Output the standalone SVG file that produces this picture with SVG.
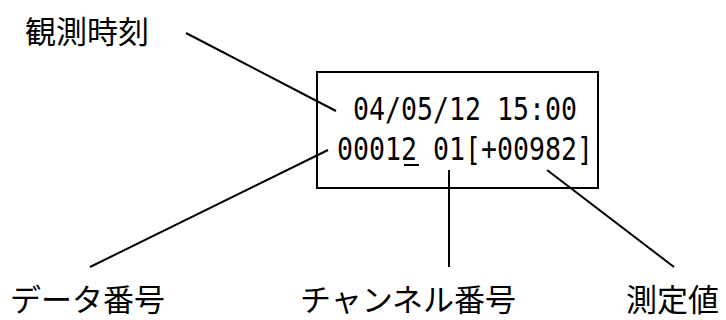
<svg xmlns="http://www.w3.org/2000/svg" width="726" height="320" viewBox="0 0 726 320">
<style>
.lbl{font-family:"Noto Sans CJK JP","Noto Sans",sans-serif;font-size:31px;fill:#000}
.mono{font-family:"DejaVu Sans Mono","Liberation Mono",monospace;font-size:32px;fill:#000}
.ln{stroke:#000;stroke-width:2;fill:none}
</style>
<rect width="726" height="320" fill="#fff"/>
<g id="connectors">
<line class="ln" x1="186" y1="33" x2="336" y2="111"/>
<line class="ln" x1="90" y1="267" x2="328" y2="150"/>
<line class="ln" x1="449" y1="170" x2="449" y2="267"/>
<line class="ln" x1="547" y1="170" x2="674" y2="267"/>
</g>
<g id="record">
<rect class="ln" x="317" y="72" width="281" height="116"/>
<text class="mono" x="353" y="120" textLength="224" lengthAdjust="spacingAndGlyphs">04/05/12 15:00</text>
<text class="mono" x="337" y="160" textLength="256" lengthAdjust="spacingAndGlyphs">00012 01[+00982]</text>
<line class="ln" x1="404" y1="165" x2="419" y2="165"/>
</g>
<g id="label-time"><text class="lbl" x="25" y="43">観測時刻</text></g>
<g id="label-data"><text class="lbl" x="10" y="311">データ番号</text></g>
<g id="label-channel"><text class="lbl" x="300" y="311">チャンネル番号</text></g>
<g id="label-value"><text class="lbl" x="626" y="311">測定値</text></g>
</svg>
